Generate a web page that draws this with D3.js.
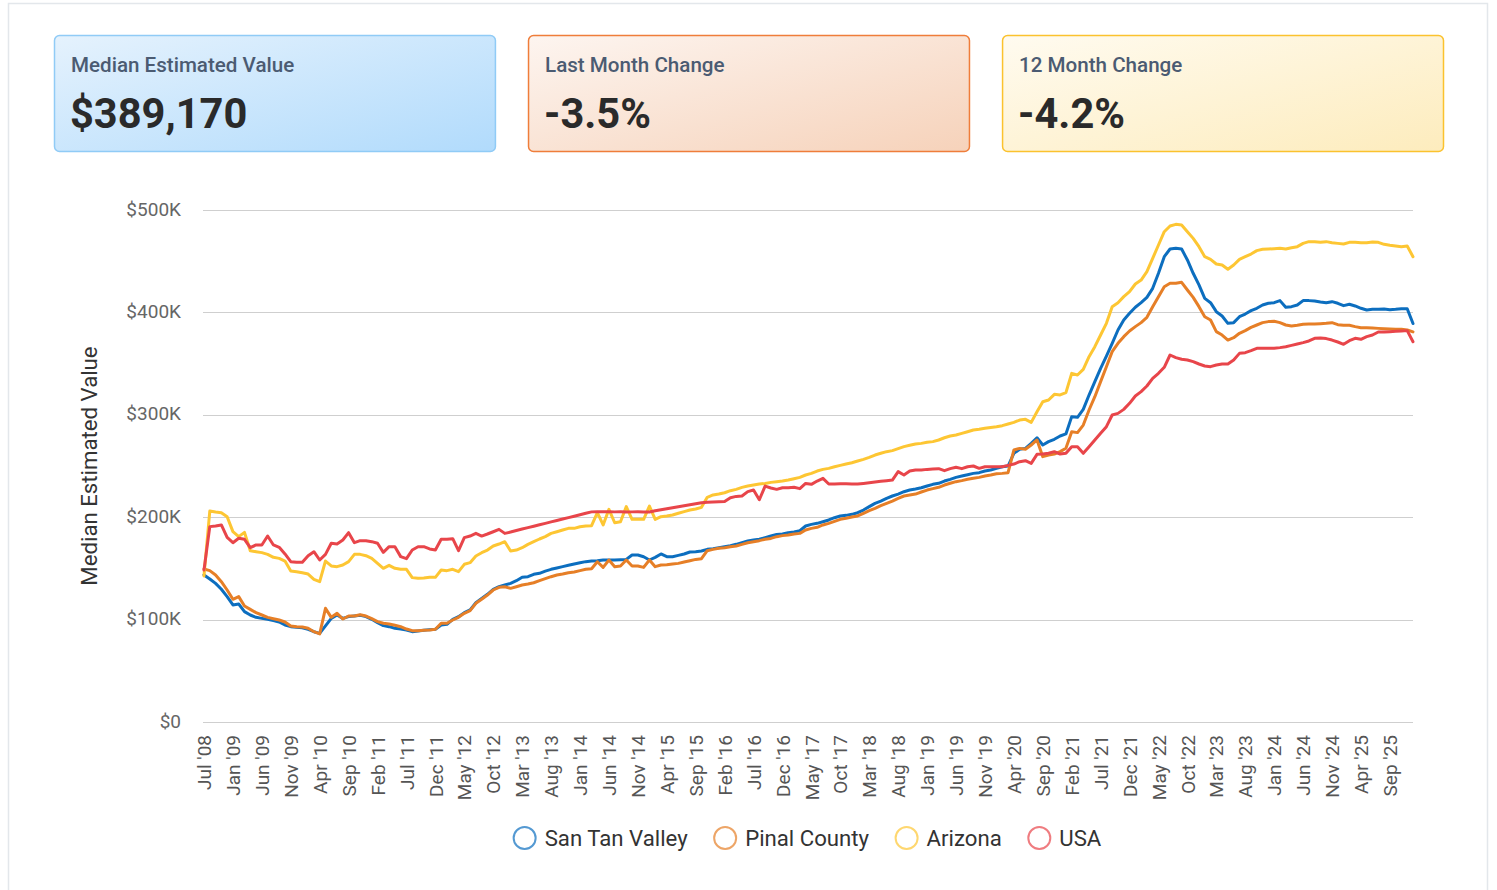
<!DOCTYPE html>
<html>
<head>
<meta charset="utf-8">
<script src="https://cdn.jsdelivr.net/npm/d3@7"></script>
<style>
  html, body { margin: 0; padding: 0; background: #ffffff; }
  svg { display: block; font-family: Roboto, "Noto Sans", sans-serif; }
</style>
</head>
<body>
<svg id="chart" width="1497" height="890"></svg>
<script>
// ---------- DATA ----------
const monthNames = ["Jan","Feb","Mar","Apr","May","Jun","Jul","Aug","Sep","Oct","Nov","Dec"];
// first sample is Jul 2008, then monthly from Sep 2008 through Jan 2026
const categories = (function () {
  const out = ["Jul '08"];
  let y = 2008, m = 8;
  while (!(y === 2026 && m === 1)) {
    out.push(monthNames[m] + " '" + String(y % 100).padStart(2, "0"));
    m++; if (m === 12) { m = 0; y++; }
  }
  return out;
})();

const seriesNames = ["San Tan Valley", "Pinal County", "Arizona", "USA"];

// values in $K
const sanTanValley = [
  143.6,139.7,135.4,129.6,122.4,114.3,115.2,107.8,104.5,102.2,101.2,100.3,99,97.7,94.7,93.1,92.5,92.1,90.5,88.2,86.6,
  93.8,101.2,104.5,101.2,102.9,103.5,104.2,102.9,100.3,97,94.1,93.1,91.5,90.8,89.9,88.2,88.9,89.5,90.2,90.5,
  94.7,95.4,100.3,102.8,106.8,109.4,116.5,120.7,124.7,129.5,132.1,133.8,135.4,138,141.3,141.9,144.2,145.2,147.4,149.1,
  150.4,151.7,153,154.3,155.6,156.6,157.2,157.5,158.2,158.2,158.2,158.5,158.8,163.1,163.1,161.4,158.2,160.8,164.1,161.4,
  161.4,162.7,164.1,166,166.3,167,168.6,169.3,170.2,171.2,172.2,173.5,175.1,176.7,177.7,178.4,180,181.6,183.2,
  183.6,184.9,185.5,186.8,191.4,193,194,195.6,197.3,199.5,201.2,201.8,202.8,204.4,207,210.3,213.5,215.8,218.4,220.7,
  222.6,224.9,226.5,227.5,228.8,230.5,232.1,233.1,235.3,237,238.9,240.2,241.5,242.8,243.5,245.1,246.1,247.7,249.3,250,
  262.4,266.3,267.2,272.1,277.6,270.5,273.8,276.1,279.3,281.3,
  298.2,297.5,305.3,319.3,332.4,345.4,357.4,369.8,382.8,392.6,399.1,405,409.5,414.7,423.5,438.2,454.4,461.9,462.6,461.9,
  451.2,438.2,426.8,413.7,409.5,400.7,396.5,389.3,390,395.8,
  398.4,401.7,404,407.2,408.9,409.5,411.5,405,405.6,407.2,411.5,411.5,411.1,410.2,409.5,410.5,408.9,406.6,407.9,406.3,
  404,402.3,403,403,403.3,402.7,403,403.6,403.6,389.17
];
const pinalCounty = [
  149.4,147.8,143.6,137,128.9,119.8,122.4,113.3,110,106.8,104.5,102.2,100.9,99.6,97.7,93.8,93.1,92.8,91.5,88.2,86,
  111,102.2,106.1,100.6,103.5,103.5,104.8,103.5,100.9,98,96.4,95.7,94.4,93.1,90.8,89.2,89.2,89.5,89.9,90.5,
  96.4,96.4,99.6,102.2,106.1,108.7,115.9,119.8,124,128.9,131.5,132.1,130.5,132.1,133.8,134.7,136,138,140,141.9,
  143.5,144.5,145.8,146.5,147.8,149.1,149.7,156.5,151,158.2,151.7,152.3,158.2,152.3,152.3,151,158.2,151.7,153.3,153.6,
  154.3,154.9,156.2,157.5,158.8,159.5,167.3,168.6,169.6,170.2,171.2,171.9,173.5,175.1,176.1,177.1,178.4,179.3,181,
  182,182.6,183.6,184.2,187.5,189.1,190.1,192.4,194,195.9,197.9,198.9,200.2,201.2,203.8,206.4,208.6,211.2,213.5,215.8,
  218.4,220.7,221.7,222.6,224.6,226.5,227.9,229.2,231.4,233.1,234.7,235.7,237,238,238.9,240.2,241.2,242.5,242.8,243.5,
  265.6,267.2,266.3,270.5,275.4,259.1,260.8,261.7,264,267.3,
  283.5,282.6,290,304.7,317.7,332.4,347,361.7,369.8,376.3,381.8,386.1,390,395.2,405.6,415.4,425.1,428.4,428.4,429.4,
  421.9,414.7,405.6,395.8,392.6,381.2,377.9,373,375.3,379.6,
  382.2,385.4,387.7,390,391,391.3,390,387.7,386.7,387.4,388.4,388.7,388.7,389,389.3,390,388,387.4,387.4,386.1,
  385.1,385.1,384.8,384.4,384.1,383.8,383.5,383.5,382.8,381
];
const arizona = [
  142.6,206,205,204.4,200.5,185.9,181,185.2,167.3,166.3,165.4,163.7,160.8,159.8,157.2,147.5,146.8,145.8,144.5,139.3,137,
  157.2,152.4,151.7,153.3,156.6,163.7,163.7,162.4,159.8,155,150.1,153,150.1,149.1,149.1,141,140.3,140.6,141.3,141.3,
  148.4,147.8,149.1,146.8,154,155.6,162.1,165.3,167.9,171.9,173.8,176.1,167,167.9,170.2,173.5,176.1,178.7,181,184.2,
  185.8,187.5,189.1,189.1,190.7,191.4,191.7,204.4,192.4,207.7,194.6,195.6,210.3,197.9,197.9,197.9,210.9,197.9,200.5,201.1,
  202.1,203.8,205.4,207,208,209.6,219.4,221.7,222.6,223.9,225.9,227.2,229.1,230.4,231.4,232.4,233,234,234.7,
  235.3,236.3,237.6,238.9,241.2,242.8,245.1,246.7,247.7,249.3,250.6,251.9,253.2,254.9,256.5,258.4,260.7,262.4,264,265,
  266.9,268.9,270.2,271.5,272.1,273.1,273.8,275.4,277.6,279.3,280.3,281.9,283.5,285.1,285.8,286.8,287.7,288.4,289.4,291,
  292.6,294.9,295.6,292.6,303,312.8,314.5,320,319.4,321.6,
  340.5,338.9,344.4,356.8,366.5,377.9,389.3,405.6,409.5,415.4,420.3,427.7,431.6,439.8,452.8,465.8,478.8,484.4,486,485.4,
  478.8,472.3,464.2,454.4,451.8,447.3,446.3,442.1,446.3,451.8,
  454.4,457,460.3,461.6,461.9,462.2,462.6,461.9,463.2,464.2,467.4,469.1,469.1,468.4,469.1,468.1,467.4,466.8,468.4,468.4,
  468.1,468.1,468.8,468.4,466.5,465.5,464.8,464.2,464.8,454.4
];
const usa = [
  148.4,190.8,191.4,192.4,180.3,175.1,179.4,178.4,170.3,172.9,172.9,181.6,172.9,170.6,164.1,156.6,155.9,155.9,162.4,166.3,158.2,
  163.7,174.5,173.8,177.7,184.9,175.1,177.1,177.1,176.1,174.5,165.7,171.2,171.2,161.5,159.5,168,171.2,171.2,169,168,
  178.4,178.4,179,167.3,180,181.6,184.2,181.6,183.6,185.8,188.1,184.2,185.5,187,188.4,189.8,191.2,192.6,194,195.4,
  196.8,198.2,199.6,201,202.4,203.8,205.2,205.4,205.3,205.4,205.2,205.3,205.1,205.2,205.3,205.1,205,206.3,207.3,208.3,
  209.3,210.3,211.2,212.2,213.2,214.2,214.5,214.8,215,215.3,219,220.3,220.7,225,226.5,217,230.4,228.5,227.2,
  228.8,228.8,229.2,227.9,233,232.1,235.3,237.9,232.4,232.4,232.7,232.7,232.4,232.4,233,233.7,234.4,235,235.7,236.3,
  244.5,241.2,245.1,246.1,246.1,246.7,247.1,247.4,245.4,247.4,248.7,247.4,249.3,250,247.7,249.3,249.3,249.3,249.3,250.6,
  251.9,254.2,255.2,252.6,261.4,261.7,262.4,264,261.7,262.4,
  268.9,268.9,262.4,268.9,275.4,281.9,288.4,299.8,301.4,305.3,311.2,318.4,322.6,328.1,335.6,340.5,346.4,358.4,355.8,354.2,
  353.5,351.9,349.6,347.7,347,348.6,349.6,349.6,353.5,360,
  360.7,362.6,364.9,364.9,364.9,364.9,365.6,366.5,367.8,369.1,370.5,372.1,374.7,375,374.4,373,371.1,368.8,372.4,374.7,
  373.7,376.3,377.9,380.9,380.9,381.2,381.5,381.8,382.2,371.4
];
const yTicks = [0, 100, 200, 300, 400, 500];

const cardTitles = ["Median Estimated Value", "Last Month Change", "12 Month Change"];
const cardValues = ["$389,170", "-3.5%", "-4.2%"];

// ---------- STYLE ----------
const lineColors = ["#0c6ebf", "#e67f27", "#fdc633", "#e8454a"];
const cardStyles = [
  { border: "#90cbf6", from: "#e5f2fd", to: "#b1dbfc" },
  { border: "#ef7d3a", from: "#fdf5f0", to: "#f6d2ba" },
  { border: "#fbc22e", from: "#fffbf0", to: "#fdecbd" }
];

const svg = d3.select("#chart");
const defs = svg.append("defs");

// outer frame
svg.append("rect").attr("x", 8.5).attr("y", 3.5).attr("width", 1479).attr("height", 900)
  .attr("fill", "#fff").attr("stroke", "#e3e7eb").attr("stroke-width", 1.5);

// ---------- CARDS ----------
const cardX = d3.scaleBand().domain(d3.range(3)).range([54, 1444]).paddingInner(30 / 443);
cardTitles.forEach((t, i) => {
  const st = cardStyles[i];
  const gid = "grad" + i;
  const g = defs.append("linearGradient").attr("id", gid)
    .attr("x1", "0%").attr("y1", "0%").attr("x2", "100%").attr("y2", "100%");
  g.append("stop").attr("offset", "0%").attr("stop-color", st.from);
  g.append("stop").attr("offset", "100%").attr("stop-color", st.to);
  const x0 = cardX(i);
  svg.append("rect").attr("x", x0 + 0.5).attr("y", 35.5)
    .attr("width", cardX.bandwidth() - 1).attr("height", 116)
    .attr("rx", 5).attr("fill", `url(#${gid})`)
    .attr("stroke", st.border).attr("stroke-width", 1.5);
  svg.append("text").attr("x", x0 + 17).attr("y", 72)
    .attr("font-size", 20.6).attr("font-weight", 500).attr("fill", "#4b5b72").text(t);
  svg.append("text").attr("x", x0 + 16).attr("y", 128)
    .attr("font-size", 41.6).attr("font-weight", 700).attr("fill", "#2a2a2a").text(cardValues[i]);
});

// ---------- CHART ----------
const plot = { left: 204, right: 1413, top: 210, bottom: 722 };
const x = d3.scalePoint().domain(categories).range([plot.left, plot.right]);
const y = d3.scaleLinear().domain([0, 500]).range([plot.bottom, plot.top]);

// gridlines
svg.append("g").selectAll("line").data(yTicks).join("line")
  .attr("x1", plot.left - 1).attr("x2", plot.right)
  .attr("y1", d => Math.round(y(d)) + 0.5).attr("y2", d => Math.round(y(d)) + 0.5)
  .attr("stroke", "#cfcfcf").attr("stroke-width", 1);

// y axis labels
const yAxis = d3.axisLeft(y).tickValues(yTicks)
  .tickFormat(d => d === 0 ? "$0" : "$" + d + "K").tickSize(0).tickPadding(0);
const yg = svg.append("g").attr("transform", `translate(${plot.left - 23},-1)`).call(yAxis);
yg.select(".domain").remove();
yg.selectAll("text").attr("font-size", 19).attr("fill", "#666").attr("font-family", "Roboto");

// x axis labels
const xTickVals = categories.filter((d, i) => i % 5 === 0);
const xAxis = d3.axisBottom(x).tickValues(xTickVals).tickSize(0).tickPadding(0);
const xg = svg.append("g").attr("transform", `translate(0,${plot.bottom + 13})`).call(xAxis);
xg.select(".domain").remove();
xg.selectAll("text")
  .attr("font-size", 19).attr("fill", "#555").attr("font-family", "Roboto")
  .attr("text-anchor", "end").attr("dy", "0.35em").attr("y", 0).attr("x", 0)
  .attr("transform", "rotate(-90)");

// y title
svg.append("text")
  .attr("transform", `translate(97,${(plot.top + plot.bottom) / 2}) rotate(-90)`)
  .attr("text-anchor", "middle").attr("font-size", 22.2).attr("fill", "#333")
  .text("Median Estimated Value");

// lines
const allSeries = [sanTanValley, pinalCounty, arizona, usa];
const line = d3.line().x((d, i) => x(categories[i])).y(d => y(d));
allSeries.forEach((s, k) => {
  svg.append("path").datum(s).attr("d", line)
    .attr("fill", "none").attr("stroke", lineColors[k])
    .attr("stroke-width", 3).attr("stroke-linejoin", "round").attr("stroke-linecap", "round");
});

// legend
const legend = svg.append("g");
const legendFont = 22.2;
const items = [];
seriesNames.forEach((name, k) => {
  const gi = legend.append("g");
  gi.append("circle").attr("cx", 12).attr("cy", 0).attr("r", 11)
    .attr("fill", "none").attr("stroke", lineColors[k]).attr("stroke-opacity", 0.7).attr("stroke-width", 2);
  const t = gi.append("text").attr("x", 32).attr("y", 0).attr("dy", "0.35em")
    .attr("font-size", legendFont).attr("fill", "#333").text(name);
  const w = 32 + t.node().getComputedTextLength();
  items.push({ gi, w });
});
const gap = 25.5;
const total = d3.sum(items, d => d.w) + gap * (items.length - 1);
let start = 807 - total / 2;
items.forEach(it => {
  it.gi.attr("transform", `translate(${start},838)`);
  start += it.w + gap;
});
</script>
</body>
</html>
